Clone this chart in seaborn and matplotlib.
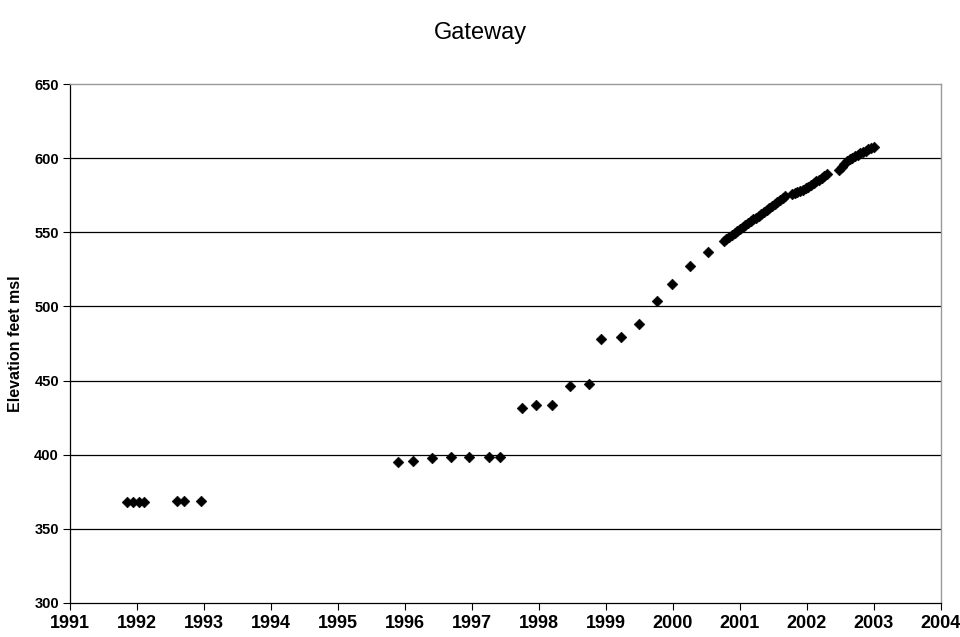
import matplotlib
matplotlib.use('Agg')

import matplotlib.pyplot as plt
import pandas as pd
import seaborn as sns

# early sparse readings (decimal year, elevation ft msl)
early_years = [1991.85, 1991.94, 1992.03, 1992.11, 1992.59, 1992.70, 1992.96]
early_elev = [367.8, 367.8, 367.8, 367.8, 368.8, 368.8, 368.8]

mid_years = [1995.89, 1996.12, 1996.41, 1996.69, 1996.95, 1997.25, 1997.42,
             1997.74, 1997.95, 1998.20, 1998.47, 1998.75, 1998.93, 1999.23,
             1999.50, 1999.76, 1999.99, 2000.26, 2000.52]
mid_elev = [394.9, 396.0, 397.6, 398.7, 398.7, 398.7, 398.7,
            431.7, 433.7, 433.7, 446.5, 447.7, 478.0, 479.2,
            487.9, 503.8, 515.1, 527.0, 536.5]

# dense readings from late 2000 on
late_years = [2000.76, 2000.80, 2000.84, 2000.88, 2000.92, 2000.96, 2001.00,
              2001.04, 2001.08, 2001.12, 2001.16, 2001.20, 2001.24, 2001.28,
              2001.32, 2001.36, 2001.40, 2001.44, 2001.48, 2001.52, 2001.56,
              2001.60, 2001.64, 2001.67,
              2001.78, 2001.82, 2001.86, 2001.90, 2001.94, 2001.98, 2002.02,
              2002.06, 2002.10, 2002.14, 2002.18, 2002.22, 2002.26, 2002.30,
              2002.48, 2002.52, 2002.56, 2002.60, 2002.64, 2002.68, 2002.72,
              2002.76, 2002.80, 2002.84, 2002.88, 2002.92, 2002.96, 2003.00]
late_elev = [544.2, 545.6, 547.0, 548.3, 549.6, 551.0, 552.4,
             553.8, 555.1, 556.3, 557.5, 558.8, 560.0, 561.3,
             562.5, 563.8, 565.1, 566.4, 567.7, 569.0, 570.3,
             571.8, 573.2, 574.2,
             575.9, 576.4, 577.0, 577.8, 578.8, 579.8, 580.9,
             582.0, 583.2, 584.4, 585.6, 586.8, 588.0, 589.2,
             592.0, 594.0, 596.0, 597.8, 599.2, 600.3, 601.3,
             602.3, 603.2, 604.1, 605.0, 605.9, 606.8, 607.6]

year_ticks = list(range(1991, 2005))
elev_ticks = list(range(300, 651, 50))


def main():
    df = pd.DataFrame({
        'year': early_years + mid_years + late_years,
        'elev': early_elev + mid_elev + late_elev,
    })

    sns.set_theme(style='white')
    plt.rcParams['font.family'] = ['Liberation Sans', 'DejaVu Sans']
    plt.rcParams['text.color'] = 'black'
    plt.rcParams['axes.labelcolor'] = 'black'
    plt.rcParams['xtick.color'] = 'black'
    plt.rcParams['ytick.color'] = 'black'

    fig = plt.figure(figsize=(9.6, 6.37), dpi=100)
    ax = fig.add_axes([0.073, 0.0534, 0.907, 0.8146])

    for v in elev_ticks[1:-1]:
        ax.axhline(v, color='black', lw=0.9, zorder=0)

    sns.scatterplot(data=df, x='year', y='elev', marker='D', s=30,
                    color='black', linewidth=0.4, edgecolor='black',
                    ax=ax, zorder=3)

    ax.set_xlim(1991, 2004)
    ax.set_ylim(300, 650)
    ax.set_xticks(year_ticks)
    ax.set_yticks(elev_ticks)

    narrow = ['Liberation Sans Narrow', 'Liberation Sans', 'DejaVu Sans']
    ax.set_xticklabels([str(y) for y in year_ticks], fontsize=13,
                       fontweight='bold', family=narrow)
    ax.set_yticklabels([str(v) for v in elev_ticks], fontsize=10.5,
                       fontweight='bold')

    ax.tick_params(axis='x', direction='out', length=5, width=0.8,
                   color='black', pad=4, bottom=True)
    ax.tick_params(axis='y', direction='out', length=5, width=0.8,
                   color='black', pad=3, left=True)

    for side in ['left', 'bottom']:
        ax.spines[side].set_color('black')
        ax.spines[side].set_linewidth(0.9)
    for side in ['top', 'right']:
        ax.spines[side].set_color('#999999')
        ax.spines[side].set_linewidth(1.0)

    ax.set_xlabel('')
    ax.set_ylabel('Elevation feet msl', fontsize=11.5, fontweight='bold',
                  labelpad=8)

    fig.suptitle('Gateway', x=0.5, y=0.965, fontsize=17, color='black')

    fig.savefig('out.png', dpi=100)
    plt.close(fig)


if __name__ == '__main__':
    main()
